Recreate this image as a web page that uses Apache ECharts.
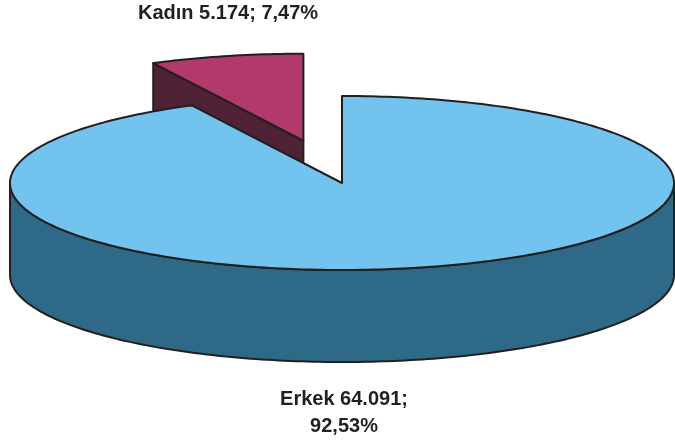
<!DOCTYPE html>
<html>
<head>
<meta charset="utf-8">
<script src="https://cdn.jsdelivr.net/npm/echarts@6/dist/echarts.min.js"></script>
<style>html,body{margin:0;padding:0;background:#fff}#c{width:675px;height:443px}</style>
</head>
<body>
<div id="c"></div>
<script>
const categories = ['Kadın', 'Erkek'];
const values = [5174, 64091];
const percentLabels = ['7,47%', '92,53%'];
const valueLabels = ['5.174', '64.091'];

const topColors = ['#B2396C', '#72C3EE'];
const sideColors = ['#4F2236', '#2E6987'];

const chart = echarts.init(document.getElementById('c'), null, {renderer: 'canvas'});

const CX = 342, CY = 183, RX = 332, RY = 87, DEPTH = 92, EXPLODE = 0.5;
const total = values.reduce((a, b) => a + b, 0);
const kadinSweep = values[0] / total * 360;

function pt(cx, cy, deg, dy) {
  const r = deg * Math.PI / 180;
  return [cx + RX * Math.sin(r), cy - RY * Math.cos(r) + (dy || 0)];
}
function arcPts(cx, cy, a0, a1, dy) {
  const pts = [];
  const n = Math.max(2, Math.ceil(Math.abs(a1 - a0)));
  for (let i = 0; i <= n; i++) pts.push(pt(cx, cy, a0 + (a1 - a0) * i / n, dy));
  return pts;
}

const stroke = {stroke: '#231F20', lineWidth: 2, lineJoin: 'round'};

function renderItem(params, api) {
  const idx = params.dataIndex;
  const children = [];
  if (idx === 0) {
    const a0 = 360 - kadinSweep, a1 = 360;
    const mid = (a0 + a1) / 2 * Math.PI / 180;
    const cx = CX + RX * EXPLODE * Math.sin(mid);
    const cy = CY - RY * EXPLODE * Math.cos(mid);
    const o0 = pt(cx, cy, a0);
    children.push({
      type: 'polygon', z2: 1,
      shape: {points: [o0, [cx, cy], [cx, cy + DEPTH], [o0[0], o0[1] + DEPTH]]},
      style: Object.assign({fill: sideColors[0]}, stroke)
    });
    const topPts = [[cx, cy]].concat(arcPts(cx, cy, a0, a1));
    children.push({
      type: 'polygon', z2: 2,
      shape: {points: topPts},
      style: Object.assign({fill: topColors[0]}, stroke)
    });
  } else {
    const a0 = 0, a1 = 360 - kadinSweep;
    const upper = arcPts(CX, CY, 90, 270);
    const lower = arcPts(CX, CY, 270, 90, DEPTH);
    children.push({
      type: 'polygon', z2: 3,
      shape: {points: upper.concat(lower)},
      style: Object.assign({fill: sideColors[1]}, stroke)
    });
    const topPts = [[CX, CY]].concat(arcPts(CX, CY, a0, a1));
    children.push({
      type: 'polygon', z2: 4,
      shape: {points: topPts},
      style: Object.assign({fill: topColors[1]}, stroke)
    });
  }
  return {type: 'group', children: children};
}

const labelFont = 'bold 20px "Liberation Sans", Arial, sans-serif';

chart.setOption({
  animation: false,
  series: [{
    type: 'custom',
    coordinateSystem: 'none',
    renderItem: renderItem,
    data: categories.map((c, i) => ({name: c, value: values[i]}))
  }],
  graphic: [
    {
      type: 'text', x: 138, y: 13,
      style: {text: categories[0] + ' ' + valueLabels[0] + '; ' + percentLabels[0], font: labelFont, fill: '#231F20', align: 'left', verticalAlign: 'middle'}
    },
    {
      type: 'text', x: 344, y: 399,
      style: {text: categories[1] + ' ' + valueLabels[1] + ';', font: labelFont, fill: '#231F20', align: 'center', verticalAlign: 'middle'}
    },
    {
      type: 'text', x: 344, y: 426,
      style: {text: percentLabels[1], font: labelFont, fill: '#231F20', align: 'center', verticalAlign: 'middle'}
    }
  ]
});
</script>
</body>
</html>
